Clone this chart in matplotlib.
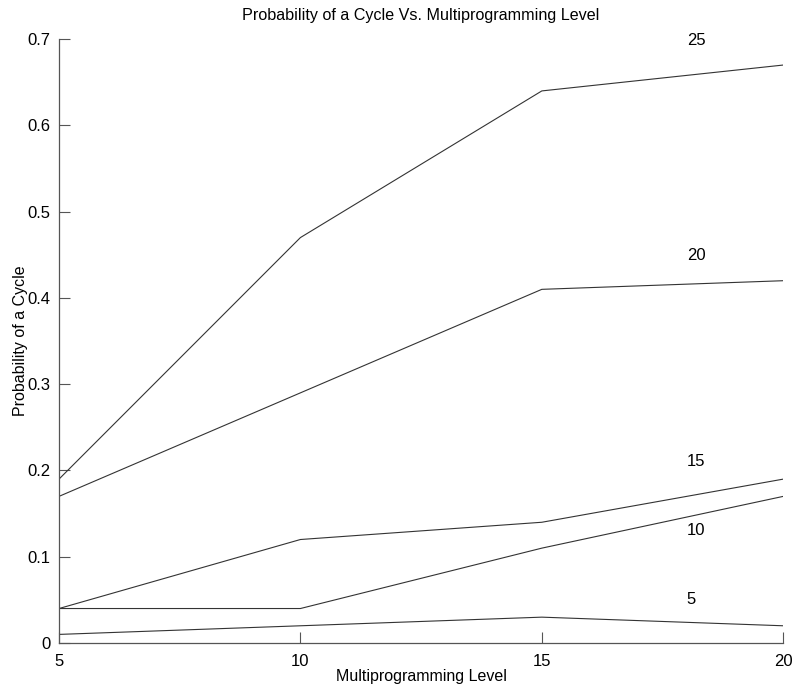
import matplotlib
matplotlib.use("Agg")
import matplotlib.pyplot as plt

plt.rcParams['font.family'] = ['Liberation Sans', 'DejaVu Sans']

mpl_level = [5, 10, 15, 20]
p25 = [0.19, 0.47, 0.64, 0.67]
p20 = [0.17, 0.29, 0.41, 0.42]
p15 = [0.04, 0.12, 0.14, 0.19]
p10 = [0.04, 0.04, 0.11, 0.17]
p5 = [0.01, 0.02, 0.03, 0.02]
series = [("25", p25), ("20", p20), ("15", p15), ("10", p10), ("5", p5)]
# label anchor (x, y) in data units
label_pos = {"25": (18.0, 0.699), "20": (18.0, 0.449), "15": (18.0, 0.21),
             "10": (18.0, 0.131), "5": (18.0, 0.05)}

fig = plt.figure(figsize=(7.95, 6.87), dpi=100)
ax = fig.add_axes([0.0742, 0.064, 0.911, 0.879])

for name, vals in series:
    ax.plot(mpl_level, vals, color="#333333", lw=0.8)
    lx, ly = label_pos[name]
    ax.text(lx, ly, name, fontsize=12, ha="left", va="center")

ax.set_xlim(5, 20)
ax.set_ylim(0, 0.7)
ax.set_xticks(mpl_level)
ax.set_yticks([0, 0.1, 0.2, 0.3, 0.4, 0.5, 0.6, 0.7])
ax.set_yticklabels(["0", "0.1", "0.2", "0.3", "0.4", "0.5", "0.6", "0.7"])
ax.tick_params(direction="in", length=8, width=0.8, color="#555555",
               labelsize=12, pad=6)
ax.tick_params(axis="x", pad=8)
for s in ["top", "right"]:
    ax.spines[s].set_visible(False)
for s in ["left", "bottom"]:
    ax.spines[s].set_color("#555555")
    ax.spines[s].set_linewidth(0.9)

ax.set_title("Probability of a Cycle Vs. Multiprogramming Level", fontsize=11.6, pad=14)
ax.set_xlabel("Multiprogramming Level", fontsize=11.5, labelpad=0)
ax.set_ylabel("Probability of a Cycle", fontsize=11.5, labelpad=0)

fig.savefig("out.png", dpi=100)
